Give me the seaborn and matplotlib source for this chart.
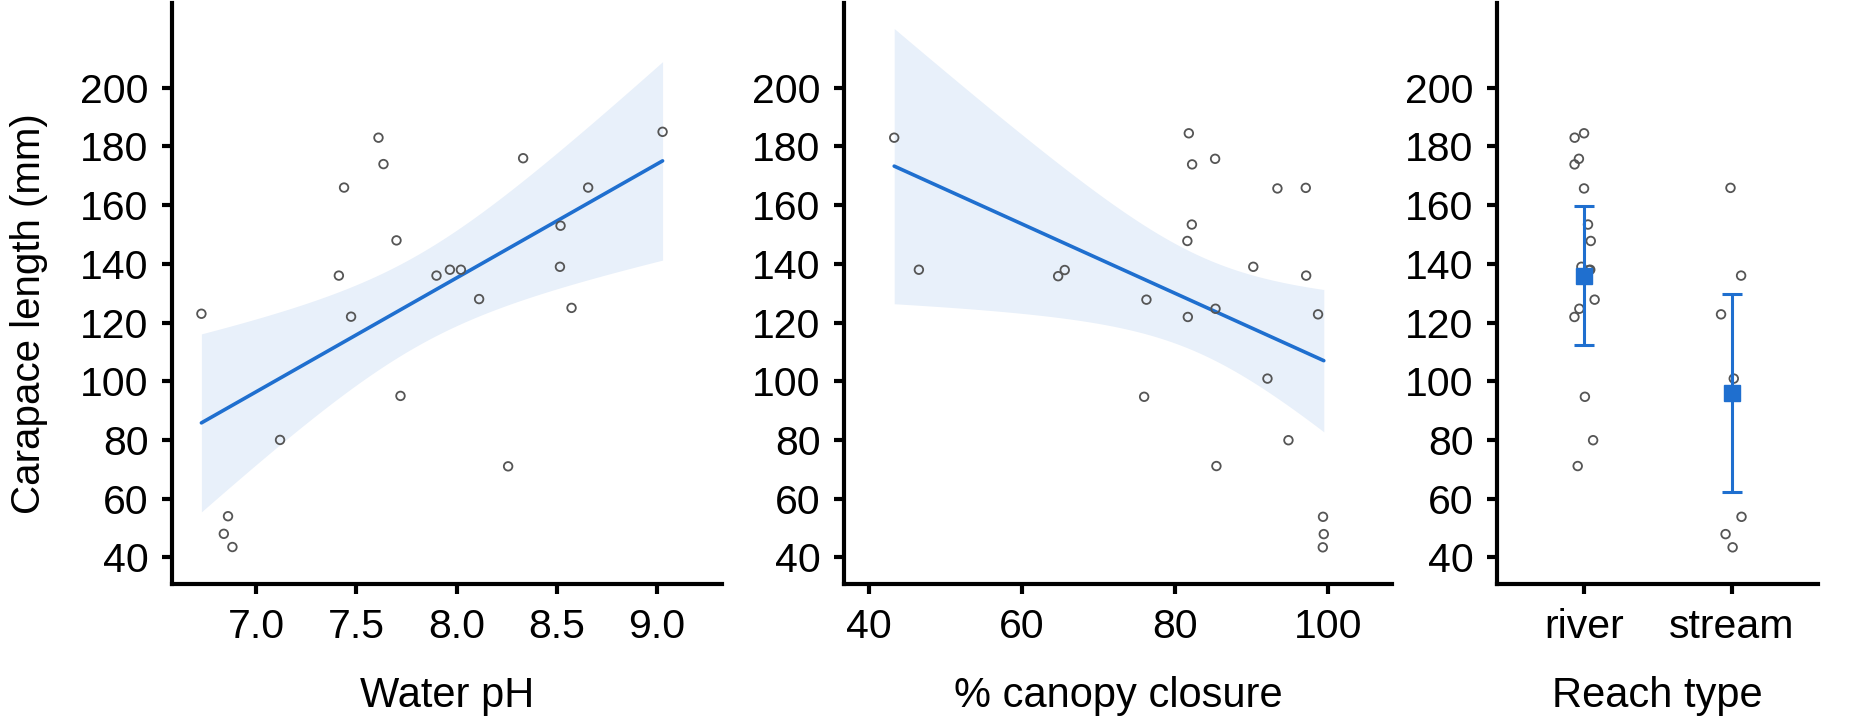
import numpy as np
import pandas as pd
import matplotlib
matplotlib.use("Agg")
import matplotlib.pyplot as plt
import seaborn as sns

# ---------------- data ----------------
water_ph = [6.725, 6.858, 6.837, 6.88, 7.118, 7.438, 7.412, 7.473, 7.61, 7.635,
            7.70, 7.72, 7.90, 7.967, 8.022, 8.113, 8.258, 8.333, 8.52, 8.517,
            8.575, 8.658, 9.03]
length_ph = [123, 54, 48, 43.5, 80, 166, 136, 122, 183, 174,
             148, 95, 136, 138, 138, 128, 71, 176, 153, 139,
             125, 166, 185]

canopy = [43.35, 46.57, 64.74, 65.6, 76.26, 75.96, 81.79, 82.22, 85.22, 93.35,
          97.05, 82.18, 81.6, 90.2, 97.1, 81.66, 85.27, 98.65, 92.05, 94.79,
          85.39, 99.3, 99.4, 99.27]
length_canopy = [183, 138, 135.8, 137.9, 127.8, 94.7, 184.5, 173.9, 175.8, 165.7,
                 165.9, 153.4, 147.8, 139, 136, 121.9, 124.7, 122.8, 100.9, 79.9,
                 71.1, 53.8, 47.9, 43.4]

length_river = [183, 138, 135.8, 137.9, 127.8, 94.7, 184.5, 173.9, 175.8, 165.7,
                153.4, 147.8, 139, 121.9, 124.7, 79.9, 71.1]
length_stream = [165.9, 136, 122.8, 100.9, 53.8, 47.9, 43.4]

reach_types = ["river", "stream"]
reach_means = [135.8, 95.9]
reach_ci_low = [112.3, 62.1]
reach_ci_high = [159.7, 129.8]

y_ticks = [40, 60, 80, 100, 120, 140, 160, 180, 200]
ph_ticks = [7.0, 7.5, 8.0, 8.5, 9.0]
canopy_ticks = [40, 60, 80, 100]

# ---------------- style ----------------
sns.set_theme(style="ticks")
plt.rcParams['font.family'] = ['Liberation Sans', 'DejaVu Sans']
plt.rcParams['axes.labelcolor'] = 'black'
plt.rcParams['text.color'] = 'black'

BLUE = "#1F6FCF"
BAND = "#E8F0FA"
PT = "#555555"
W, H = 1850, 718
TICK_FS = 29.5
LAB_FS = 30

fig = plt.figure(figsize=(W / 100, H / 100), dpi=100)
bottom = 1 - 584 / H
height = 581 / H
ax1 = fig.add_axes([172 / W, bottom, 550 / W, height])
ax2 = fig.add_axes([844 / W, bottom, 548 / W, height])
ax3 = fig.add_axes([1497 / W, bottom, 321 / W, height])

df1 = pd.DataFrame({"ph": water_ph, "len": length_ph})
df2 = pd.DataFrame({"can": canopy, "len": length_canopy})
df3 = pd.DataFrame({
    "reach": ["river"] * len(length_river) + ["stream"] * len(length_stream),
    "len": length_river + length_stream,
})

T95 = {21: 2.080, 22: 2.074}  # Student t quantiles (0.975)


def ols_band(x, y):
    x = np.asarray(x, float)
    y = np.asarray(y, float)
    n = len(x)
    b1, b0 = np.polyfit(x, y, 1)
    resid = y - (b0 + b1 * x)
    s = np.sqrt(np.sum(resid ** 2) / (n - 2))
    sxx = np.sum((x - x.mean()) ** 2)
    grid = np.linspace(x.min(), x.max(), 200)
    fit = b0 + b1 * grid
    half = T95[n - 2] * s * np.sqrt(1 / n + (grid - x.mean()) ** 2 / sxx)
    return grid, fit - half, fit + half


def reg_panel(ax, df, xcol):
    gx, lo, hi = ols_band(df[xcol], df["len"])
    ax.fill_between(gx, lo, hi, color=BAND, lw=0, zorder=1)
    sns.regplot(data=df, x=xcol, y="len", ax=ax, scatter=False, color=BLUE,
                ci=None, truncate=True, line_kws=dict(lw=2.6, zorder=2))
    sns.scatterplot(data=df, x=xcol, y="len", ax=ax, s=38, marker="o",
                    facecolor="none", edgecolor=PT, linewidth=1.3, zorder=3)
    ax.collections[-1].set_facecolor("none")
    ax.collections[-1].set_edgecolor(PT)


reg_panel(ax1, df1, "ph")
reg_panel(ax2, df2, "can")

np.random.seed(7)
sns.stripplot(data=df3, x="reach", y="len", order=reach_types, ax=ax3,
              jitter=0.075, s=6.2, marker="o", color=PT, linewidth=1.3,
              edgecolor=PT, zorder=3)
for coll in ax3.collections:
    coll.set_facecolor("none")
    coll.set_edgecolor(PT)
pos = np.arange(len(reach_types))
means = np.array(reach_means)
yerr = [means - np.array(reach_ci_low), np.array(reach_ci_high) - means]
ax3.errorbar(pos, means, yerr=yerr, fmt="s", color=BLUE, ms=11.5,
             capsize=7, elinewidth=2.2, capthick=2.2, zorder=5)

for ax in (ax1, ax2, ax3):
    ax.set_ylim(30.9, 228.9)
    ax.set_yticks(y_ticks)
    for s in ("top", "right"):
        ax.spines[s].set_visible(False)
    for s in ("left", "bottom"):
        ax.spines[s].set_linewidth(3)
        ax.spines[s].set_color("black")
    ax.tick_params(axis="both", width=3, length=7, labelsize=TICK_FS, pad=10,
                   color="black", labelcolor="black", direction="out")
    ax.set_ylabel("")
    ax.grid(False)

ax1.set_xlim(6.578, 9.327)
ax1.set_xticks(ph_ticks)
ax1.set_xticklabels([f"{t:.1f}" for t in ph_ticks])
ax2.set_xlim(36.8, 108.3)
ax2.set_xticks(canopy_ticks)
ax3.set_xlim(-0.59, 1.586)
ax3.set_xticks(pos)
ax3.set_xticklabels(reach_types)

lab = dict(fontsize=LAB_FS, labelpad=22, color="black")
ax1.set_xlabel("Water pH", **lab)
ax2.set_xlabel("% canopy closure", **lab)
ax3.set_xlabel("Reach type", **lab)
ax1.set_ylabel("Carapace length (mm)", fontsize=29, color="black")
ax1.yaxis.set_label_coords(-0.226, 0.466)

fig.savefig("out.png", dpi=100)
